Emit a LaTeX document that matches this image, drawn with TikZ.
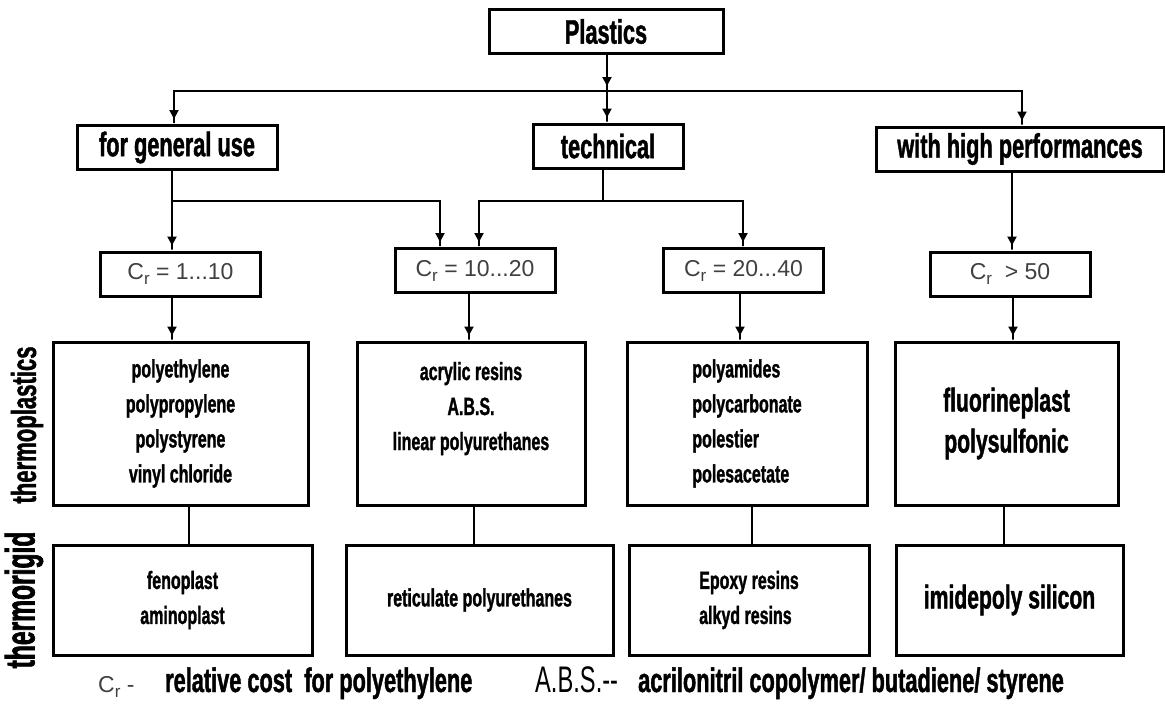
\documentclass[tikz,border=0pt]{standalone}
\usepackage{fontspec}
\setmainfont{Liberation Sans}
\newfontfamily\narrowfont{Liberation Sans}[FakeStretch=0.64, BoldFeatures={FakeBold=1.2}]
\newfontfamily\wideboldfont{Liberation Sans}[FakeStretch=0.6, BoldFeatures={FakeBold=1.6}]
\usetikzlibrary{arrows.meta,positioning}
\tikzstyle{block} = [draw, rectangle, line width=3pt, inner sep=0pt]
\tikzstyle{head} = [block, minimum height=44pt, font=\narrowfont\bfseries\fontsize{34}{34}\selectfont]
\tikzstyle{cost} = [block, minimum width=160pt, minimum height=44pt, text=black!75, font=\fontsize{23}{23}\selectfont]
\tikzstyle{group} = [block, minimum height=163pt, align=center, font=\narrowfont\bfseries\fontsize{25}{35}\selectfont]
\tikzstyle{rigid} = [block, minimum height=110pt, align=center, font=\narrowfont\bfseries\fontsize{25}{35}\selectfont]
\tikzstyle{wire} = [line width=2pt]
\tikzstyle{arr} = [wire, -{Triangle[width=9pt,length=9pt]Rectangle[width=2pt,length=5pt]}]
\newcommand{\crsub}{C\raisebox{-5pt}{\fontsize{17}{17}\selectfont r}}

\begin{document}
\begin{tikzpicture}[x=1pt, y=-1pt]
\useasboundingbox (0,0) rectangle (1165,704);

% top levels
\node [head, minimum width=234pt] (plastics) at (606,31.5) {Plastics};
\node [head, minimum width=200pt] (general) at (177,147.5) {for general use};
\node [head, minimum width=150pt] (technical) at (608,146) {technical};
\node [head, minimum width=288pt] (highperf) at (1020,149) {with high performances};

% relative cost
\node [cost] (cr1) at (180.5,274) {\crsub{} = 1...10};
\node [cost] (cr2) at (475,270.5) {\crsub{} = 10...20};
\node [cost] (cr3) at (743.5,270.5) {\crsub{} = 20...40};
\node [cost] (cr4) at (1010,274) {\crsub{} \ > 50};

% thermoplastics
\node [group, minimum width=255pt] (tp1) at (180.5,423.5) {polyethylene\\polypropylene\\polystyrene\\vinyl chloride};
\node [group, minimum width=228pt] (tp2) at (471,423.5) {acrylic resins\\A.B.S.\\linear polyurethanes\\ \mbox{}};
\node [group, minimum width=240pt, align=left] (tp3) at (747,423.5) {polyamides\\polycarbonate\\polestier\\polesacetate};
\node [group, minimum width=223pt, font=\narrowfont\bfseries\fontsize{33}{41}\selectfont] (tp4) at (1006.5,423.5) {fluorineplast\\polysulfonic};

% thermorigid
\node [rigid, minimum width=259pt] (tr1) at (182.5,600) {fenoplast\\aminoplast};
\node [rigid, minimum width=267pt] (tr2) at (479.5,600) {reticulate polyurethanes};
\node [rigid, minimum width=240pt, align=left] (tr3) at (749,600) {Epoxy resins\\alkyd resins};
\node [rigid, minimum width=227pt, font=\narrowfont\bfseries\fontsize{33}{33}\selectfont] (tr4) at (1009.5,600) {imidepoly silicon};

% side labels
\node [rotate=90, font=\narrowfont\bfseries\fontsize{34.5}{34.5}\selectfont] (tplabel) at (27,425) {thermoplastics};
\node [rotate=90, font=\wideboldfont\bfseries\fontsize{41}{41}\selectfont] (trlabel) at (24,600) {thermorigid};

% legend
\node [anchor=base west, inner sep=0pt, text=black!75, font=\fontsize{23}{23}\selectfont] (crkey) at (98,692) {\crsub{} -};
\node [anchor=base west, inner sep=0pt, font=\narrowfont\bfseries\fontsize{34}{34}\selectfont] (crtext) at (165,692) {relative cost \ for polyethylene};
\node [anchor=base west, inner sep=0pt, font=\narrowfont\fontsize{37}{37}\selectfont] (abskey) at (535,692) {A.B.S.--};
\node [anchor=base west, inner sep=0pt, font=\narrowfont\bfseries\fontsize{34}{34}\selectfont] (abstext) at (638,692) {acrilonitril copolymer/ butadiene/ styrene};

% split points
\coordinate (top) at (607,91);
\coordinate (gsplit) at (172,201);
\coordinate (tsplit) at (603,201);

\draw [arr] (plastics.south -| top) -- (top);
\draw [arr] (top) -| (general.north -| 174,0);
\draw [arr] (top) -- (technical.north -| top);
\draw [arr] (top) -| (highperf.north -| 1022,0);

\draw [arr] (general.south -| gsplit) -- (cr1.north -| gsplit);
\draw [arr] (gsplit) -| (cr2.north -| 440,0);
\draw [wire] (technical.south -| tsplit) -- (tsplit);
\draw [arr] (tsplit) -| (cr2.north -| 479,0);
\draw [arr] (tsplit) -| (cr3.north -| 743,0);
\draw [arr] (highperf.south -| 1012,0) -- (cr4.north -| 1012,0);

\draw [arr] (cr1.south -| 172,0) -- (tp1.north -| 172,0);
\draw [arr] (cr2.south -| 469,0) -- (tp2.north -| 469,0);
\draw [arr] (cr3.south -| 740,0) -- (tp3.north -| 740,0);
\draw [arr] (cr4.south -| 1013,0) -- (tp4.north -| 1013,0);

\draw [wire] (tp1.south -| 189,0) -- (tr1.north -| 189,0);
\draw [wire] (tp2.south -| 474,0) -- (tr2.north -| 474,0);
\draw [wire] (tp3.south -| 752,0) -- (tr3.north -| 752,0);
\draw [wire] (tp4.south -| 1004,0) -- (tr4.north -| 1004,0);

\end{tikzpicture}
\end{document}
